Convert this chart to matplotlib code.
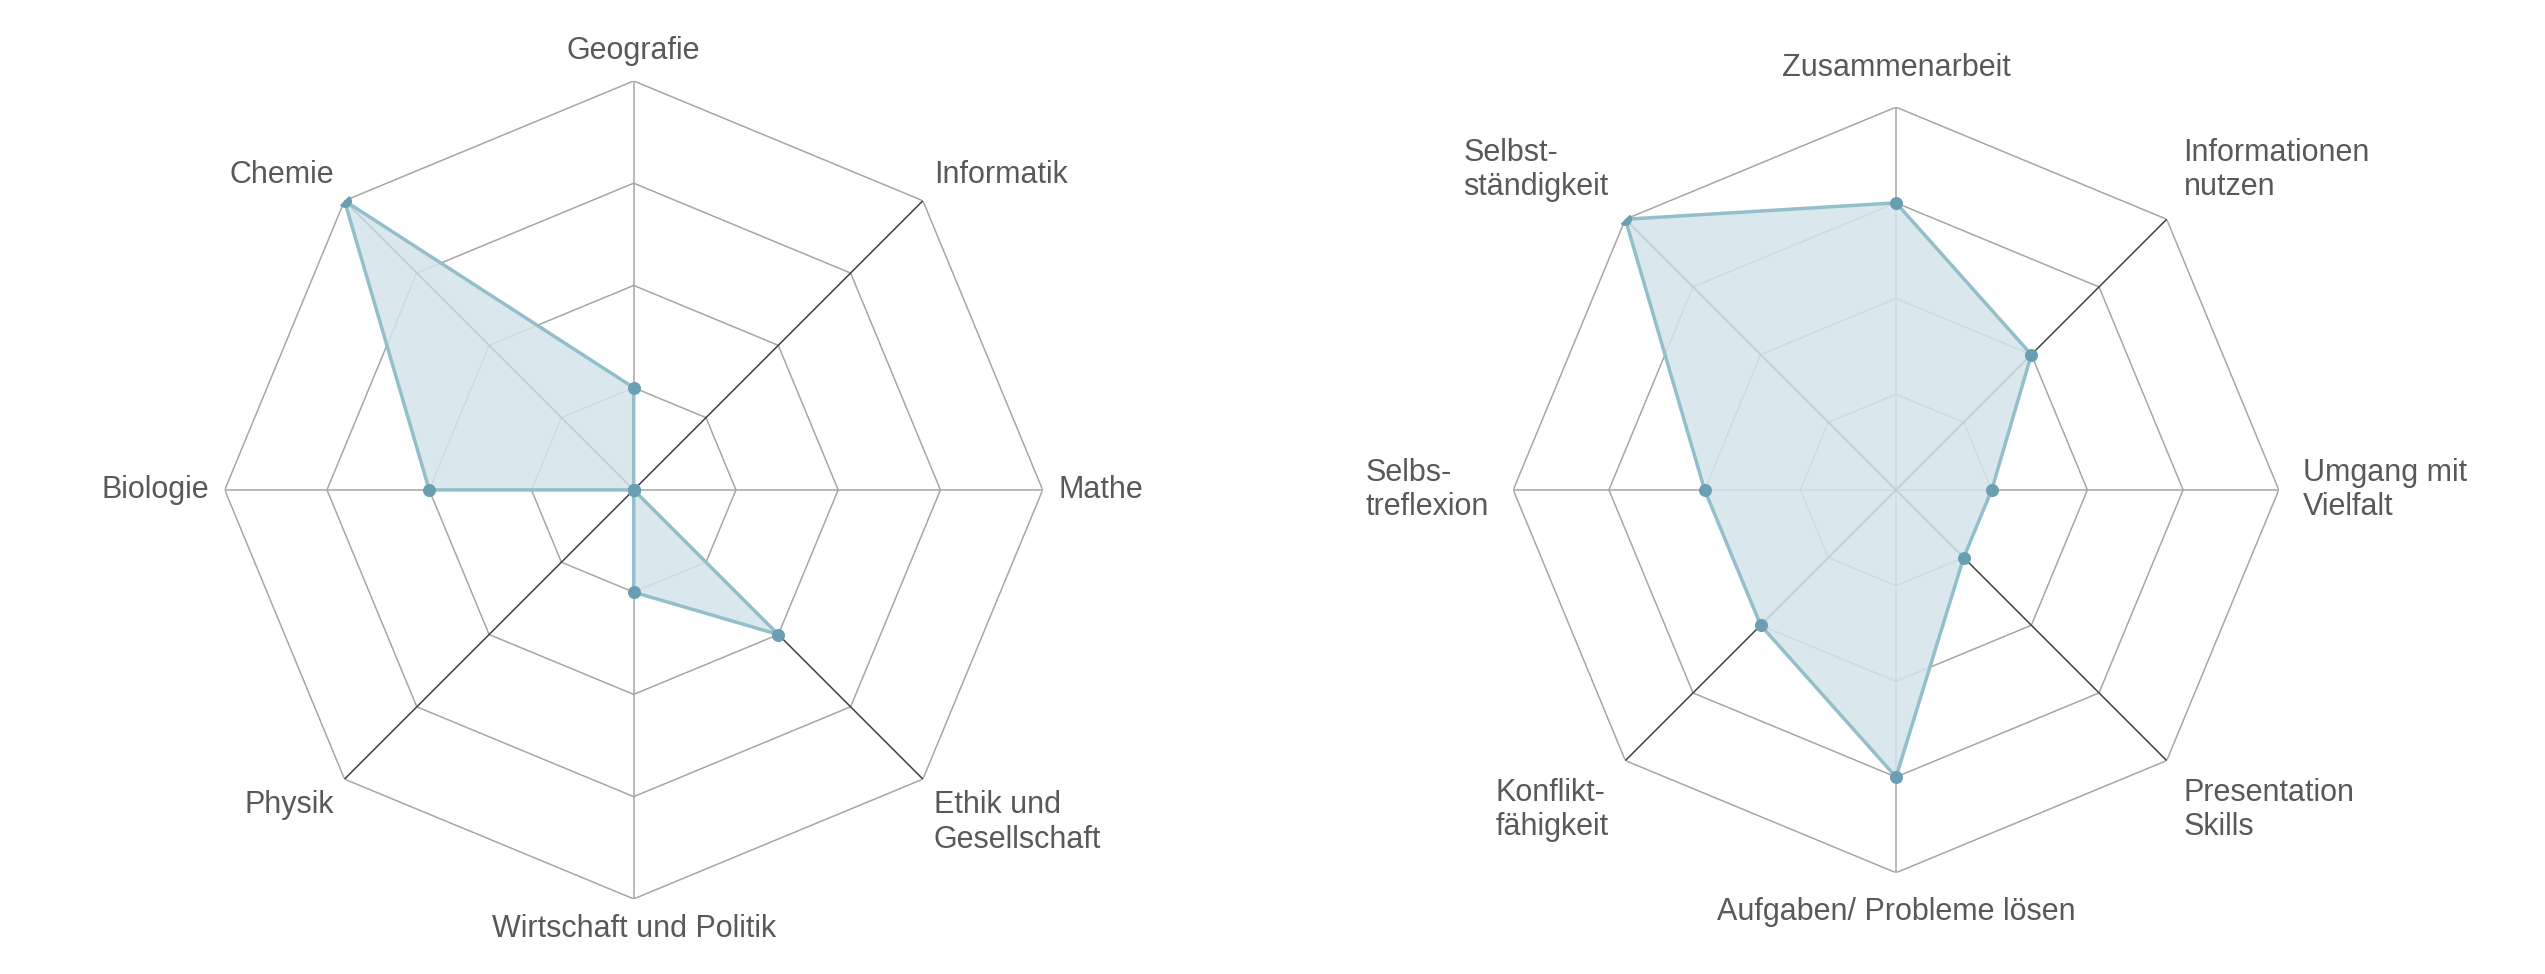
import numpy as np
import matplotlib.pyplot as plt

plt.rcParams['font.family'] = ['Liberation Sans', 'DejaVu Sans']

left_labels = ['Geografie', 'Informatik', 'Mathe', 'Ethik und\nGesellschaft',
               'Wirtschaft und Politik', 'Physik', 'Biologie', 'Chemie']
left_values = [1, 0, 0, 2, 1, 0, 2, 4]

right_labels = ['Zusammenarbeit', 'Informationen\nnutzen', 'Umgang mit\nVielfalt',
                'Presentation\nSkills', 'Aufgaben/ Probleme lösen', 'Konflikt-\nfähigkeit',
                'Selbs-\ntreflexion', 'Selbst-\nständigkeit']
right_values = [3, 2, 1, 1, 3, 2, 2, 4]

rings = [1, 2, 3, 4]
fill_col = '#d4e5ec'
line_col = '#93bfcb'
dot_col = '#6a9fb1'
text_col = '#595959'


def radar(ax, labels, values, label_r):
    n = len(labels)
    ang = np.arange(n) * 2 * np.pi / n
    ax.set_theta_zero_location('N')
    ax.set_theta_direction(-1)
    ax.set_ylim(0, 4)
    ax.axis('off')
    closed = np.append(ang, ang[0])
    for r in rings:
        ax.plot(closed, [r] * (n + 1), color='#a6a6a6', lw=1.1, zorder=1)
    for i, a in enumerate(ang):
        c = '#404040' if i % 2 == 1 else '#a6a6a6'
        ax.plot([a, a], [0, 4], color=c, lw=1.1, zorder=1)
    vals = np.append(values, values[0])
    ax.fill(closed, vals, color=fill_col, alpha=0.85, zorder=2)
    ax.plot(closed, vals, color=line_col, lw=2.5, zorder=3)
    ax.scatter(ang, values, s=70, color=dot_col, zorder=4)
    for a, lab in zip(ang, labels):
        s, c = np.sin(a), np.cos(a)
        ha = 'center' if abs(s) < 0.1 else ('left' if s > 0 else 'right')
        va = 'center' if abs(c) < 0.1 else ('bottom' if c > 0 else 'top')
        ax.text(a, label_r, lab, ha=ha, va=va, fontsize=22, color=text_col,
                linespacing=1.2, multialignment='left')


fig = plt.figure(figsize=(25.45, 9.74), dpi=100)
ax1 = fig.add_axes([0.249 - 0.1607, 0.497 - 0.42, 0.3214, 0.84], projection='polar')
radar(ax1, left_labels, left_values, 4.15)
ax2 = fig.add_axes([0.745 - 0.1505, 0.497 - 0.393, 0.301, 0.786], projection='polar')
radar(ax2, right_labels, right_values, 4.25)
fig.savefig('out.png', dpi=100, facecolor='white')
